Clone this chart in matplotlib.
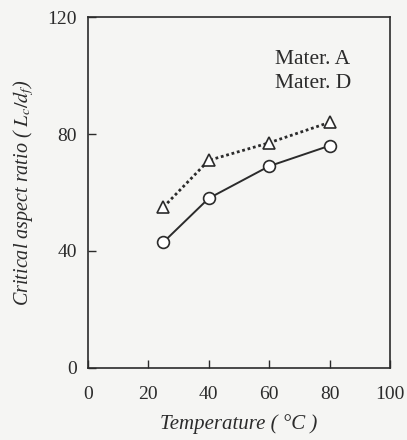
import matplotlib
matplotlib.use("Agg")
import matplotlib.pyplot as plt

BG = "#f5f5f3"
INK = "#2b2b2b"

plt.rcParams["font.family"] = ["Liberation Serif", "DejaVu Serif"]
plt.rcParams["mathtext.fontset"] = "stix"

temperature = [25, 40, 60, 80]
mater_a = [43, 58, 69, 76]
mater_d = [55, 71, 77, 84]

x_ticks = [0, 20, 40, 60, 80, 100]
y_ticks = [0, 40, 80, 120]


def main():
    fig = plt.figure(figsize=(4.07, 4.40), dpi=100)
    fig.patch.set_facecolor(BG)
    ax = fig.add_axes([0.216, 0.164, 0.742, 0.797])
    ax.set_facecolor(BG)

    ax.plot(temperature, mater_a, color=INK, linewidth=1.4, marker="o",
            markersize=8.5, markerfacecolor="white", markeredgecolor=INK,
            markeredgewidth=1.2)
    ax.plot(temperature, mater_d, color=INK, linewidth=2.0, linestyle=(0, (1, 1)),
            marker="^", markersize=8.5, markerfacecolor="white",
            markeredgecolor=INK, markeredgewidth=1.2)

    ax.set_xlim(0, 100)
    ax.set_ylim(0, 120)
    ax.set_xticks(x_ticks)
    ax.set_yticks(y_ticks)
    ax.tick_params(direction="in", length=6, width=1.0, colors=INK, labelsize=14)
    ax.tick_params(axis="x", pad=13)
    ax.tick_params(axis="y", pad=8)
    for spine in ax.spines.values():
        spine.set_color(INK)
        spine.set_linewidth(1.2)

    ax.set_xlabel("Temperature ( \u00b0C )", fontsize=15, style="italic", color=INK, labelpad=8)
    ax.set_ylabel(r"Critical aspect ratio ( $L_c/d_f$)", fontsize=14.5, style="italic",
                  color=INK, labelpad=8)

    ax.text(0.62, 0.88, "Mater. A", transform=ax.transAxes, fontsize=15.5,
            color=INK, va="center")
    ax.text(0.62, 0.81, "Mater. D", transform=ax.transAxes, fontsize=15.5,
            color=INK, va="center")

    fig.savefig("out.png", facecolor=BG)
    plt.close(fig)


if __name__ == "__main__":
    main()
